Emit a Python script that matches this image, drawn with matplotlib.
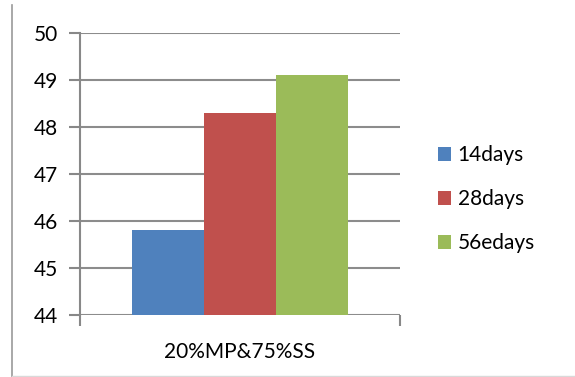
import matplotlib.pyplot as plt
from matplotlib.lines import Line2D

# 강도 데이터 (재령별)
category = '20%MP&75%SS'
labels = ['14days', '28days', '56edays']
values = [45.8, 48.3, 49.1]
colors = ['#4f81bd', '#c0504d', '#9bbb59']
yticks = [44, 45, 46, 47, 48, 49, 50]

plt.rcParams['font.family'] = ['Lato', 'DejaVu Sans']

fig = plt.figure(figsize=(5.75, 3.77), dpi=100)
ax = fig.add_axes([80 / 575, 1 - 315 / 377, 320 / 575, 282 / 377])

# 막대 그래프
width = 72 / 320
xs = [-width, 0, width]
for x, v, c, lab in zip(xs, values, colors, labels):
    ax.bar(x, v - 44, bottom=44, width=width, color=c, label=lab, zorder=3)

ax.set_xlim(-0.5, 0.5)
ax.set_ylim(44, 50)
ax.set_yticks(yticks)
ax.set_yticklabels([str(t) for t in yticks], fontsize=15)
ax.set_xticks([-0.5, 0.5])
ax.set_xticklabels(['', ''])
ax.tick_params(axis='y', length=8, color='#888888', width=1.5, pad=8)
ax.tick_params(axis='x', length=8, color='#888888', width=1.5)
ax.grid(axis='y', color='#8c8c8c', linewidth=1.5, zorder=0)
for s in ['top', 'right', 'bottom']:
    ax.spines[s].set_visible(False)
ax.spines['left'].set_color('#888888')
ax.spines['left'].set_linewidth(1.5)
ax.text(0.5, -0.13, category, transform=ax.transAxes, ha='center', va='center',
        fontsize=15)

# 범례
ax.legend(loc='center left', bbox_to_anchor=(1.06, 0.41), frameon=False,
          fontsize=15, handlelength=0.65, handleheight=0.65, labelspacing=1.15,
          handletextpad=0.3)

# 테두리 선
fig.add_artist(Line2D([12 / 575, 12 / 575], [0, 1 - 5 / 377],
                      transform=fig.transFigure, color='#999999', linewidth=1.2))
fig.add_artist(Line2D([12 / 575, 1], [1.5 / 377, 1.5 / 377],
                      transform=fig.transFigure, color='#d9d9d9', linewidth=1.0))

plt.savefig('out.png')
